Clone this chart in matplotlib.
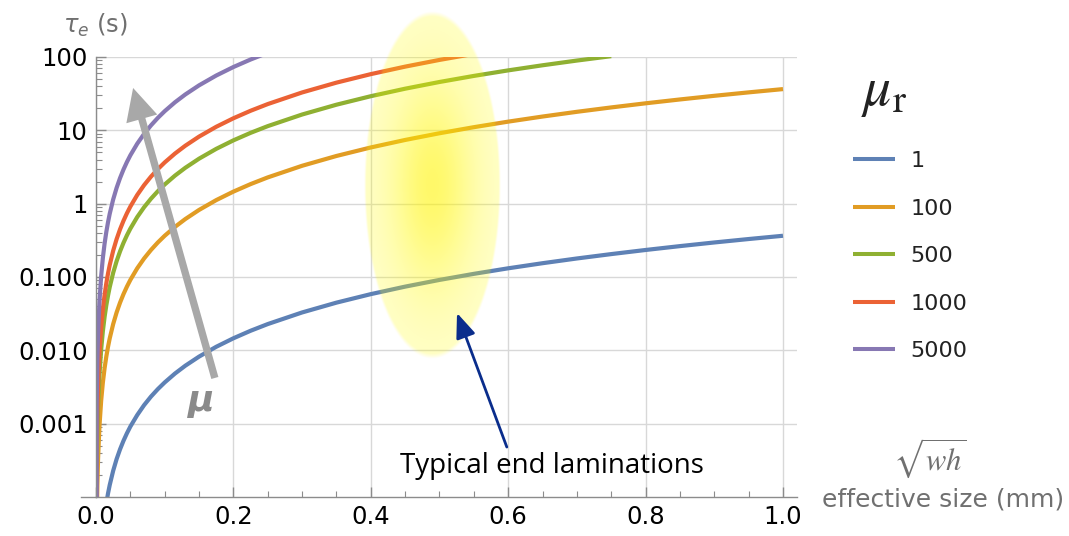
import numpy as np
import matplotlib
matplotlib.use("Agg")
import matplotlib.pyplot as plt
from matplotlib.ticker import LogLocator, NullFormatter, MultipleLocator
from matplotlib.lines import Line2D

# ---------------- data ----------------
size_mm = [0, 0.001, 0.002, 0.003, 0.005, 0.0075, 0.01, 0.0125, 0.015, 0.0175, 0.02,
           0.025, 0.03, 0.035, 0.04, 0.045, 0.05, 0.06, 0.07, 0.08, 0.09, 0.1, 0.115,
           0.13, 0.15, 0.175, 0.2, 0.225, 0.25, 0.3, 0.35, 0.4, 0.45, 0.5, 0.55, 0.6,
           0.65, 0.7, 0.75, 0.8, 0.85, 0.9, 0.95, 1.0]
mu_labels = ["1", "100", "500", "1000", "5000"]
tau_mu1 = [0, 3.7e-7, 1.5e-6, 3.3e-6, 9.1e-6, 2.05e-5, 3.65e-5, 5.7e-5, 8.2e-5, 1.12e-4,
           1.46e-4, 2.28e-4, 3.29e-4, 4.47e-4, 5.84e-4, 7.39e-4, 9.13e-4, 1.31e-3,
           1.79e-3, 2.34e-3, 2.96e-3, 3.65e-3, 4.83e-3, 6.17e-3, 8.21e-3, 0.01118,
           0.0146, 0.01848, 0.02281, 0.03285, 0.04471, 0.0584, 0.07391, 0.09125,
           0.1104, 0.1314, 0.1542, 0.1789, 0.2053, 0.2336, 0.2637, 0.2957, 0.3294, 0.365]
tau_mu100 = [0, 3.7e-5, 1.46e-4, 3.29e-4, 9.13e-4, 2.05e-3, 3.65e-3, 5.7e-3, 8.21e-3,
             0.01118, 0.0146, 0.02281, 0.03285, 0.04471, 0.0584, 0.07391, 0.09125,
             0.1314, 0.1789, 0.2336, 0.2957, 0.365, 0.4827, 0.6169, 0.8213, 1.118,
             1.46, 1.848, 2.281, 3.285, 4.471, 5.84, 7.391, 9.125, 11.04, 13.14, 15.42,
             17.89, 20.53, 23.36, 26.37, 29.57, 32.94, 36.5]
tau_mu500 = [0, 1.83e-4, 7.3e-4, 1.64e-3, 4.56e-3, 0.01027, 0.01825, 0.02852, 0.04106,
             0.05589, 0.073, 0.1141, 0.1643, 0.2236, 0.292, 0.3696, 0.4563, 0.657,
             0.8943, 1.168, 1.478, 1.825, 2.414, 3.084, 4.106, 5.589, 7.3, 9.239, 11.41,
             16.43, 22.36, 29.2, 36.96, 45.63, 55.21, 65.7, 77.11, 89.43, 102.7]
tau_mu1000 = [0, 3.65e-4, 1.46e-3, 3.29e-3, 9.13e-3, 0.02053, 0.0365, 0.05703, 0.08213,
              0.1118, 0.146, 0.2281, 0.3285, 0.4471, 0.584, 0.7391, 0.9125, 1.314,
              1.789, 2.336, 2.957, 3.65, 4.827, 6.169, 8.213, 11.18, 14.6, 18.48,
              22.81, 32.85, 44.71, 58.4, 73.91, 91.25, 110.4]
tau_mu5000 = [0, 1.83e-3, 7.3e-3, 0.01643, 0.04563, 0.1027, 0.1825, 0.2852, 0.4106,
              0.5589, 0.73, 1.141, 1.643, 2.236, 2.92, 3.696, 4.563, 6.57, 8.943,
              11.68, 14.78, 18.25, 24.14, 30.84, 41.06, 55.89, 73, 92.39, 114.1]
series = [tau_mu1, tau_mu100, tau_mu500, tau_mu1000, tau_mu5000]
colors = ["#5E81B5", "#E19C24", "#8FB032", "#EB6235", "#8778B3"]

y_ticks = [1e-3, 1e-2, 1e-1, 1, 10, 100]
y_tick_labels = ["0.001", "0.010", "0.100", "1", "10", "100"]
x_ticks = [0.0, 0.2, 0.4, 0.6, 0.8, 1.0]
x_tick_labels = ["0.0", "0.2", "0.4", "0.6", "0.8", "1.0"]

# ---------------- figure ----------------
W, H = 1069, 536
fig = plt.figure(figsize=(W / 100, H / 100), dpi=100)
L, R, B, T = 96, 797, 497, 57
ax = fig.add_axes([L / W, 1 - B / H, (R - L) / W, (B - T) / H])
ax.set_yscale("log")
ax.set_xlim(0, 1.0204)
ax.set_ylim(1e-4, 100)

spine_col = "#8C8C8C"
grid_col = "#D8D8D8"
for s in ["top", "right"]:
    ax.spines[s].set_visible(False)
for s in ["left", "bottom"]:
    ax.spines[s].set_color(spine_col)
    ax.spines[s].set_linewidth(1.0)
ax.add_line(Line2D([-0.0214, 0], [0, 0], transform=ax.transAxes, color=spine_col,
                   lw=1.0, clip_on=False))

ax.set_yticks(y_ticks, labels=y_tick_labels)
ax.yaxis.set_minor_locator(LogLocator(base=10, subs=np.arange(2, 10), numticks=20))
ax.yaxis.set_minor_formatter(NullFormatter())
ax.set_xticks(x_ticks, labels=x_tick_labels)
ax.xaxis.set_minor_locator(MultipleLocator(0.05))
ax.tick_params(axis="both", which="major", direction="in", length=7, width=1,
               color=spine_col, labelsize=17.5, labelcolor="black", pad=6)
ax.tick_params(axis="both", which="minor", direction="in", length=4, width=0.8,
               color=spine_col)
for lab in ax.get_xticklabels() + ax.get_yticklabels():
    lab.set_fontfamily("DejaVu Sans")

ax.grid(True, which="major", color=grid_col, lw=1.0)
ax.set_axisbelow(True)

handles = []
for vals, c, lab in zip(series, colors, mu_labels):
    h, = ax.plot(size_mm[:len(vals)], vals, color=c, lw=3.0, label=lab,
                 solid_capstyle="butt", solid_joinstyle="round")
    handles.append(h)

# legend
leg = fig.legend(handles=handles, labels=mu_labels, loc="upper left",
                 bbox_to_anchor=(853 / W, 1 - 151 / H), frameon=False,
                 borderaxespad=0, borderpad=0,
                 prop={"family": "DejaVu Sans", "size": 16},
                 labelspacing=1.24, handlelength=1.9, handletextpad=0.68)
for t in leg.get_texts():
    t.set_color("#222222")
for l in leg.get_lines():
    l.set_linewidth(2.9)
fig.text(861 / W, 1 - 92 / H, r"$\mu_{\mathrm{r}}$", fontsize=40, color="#222222",
         ha="left", va="center", math_fontfamily="stix")

# axis labels
fig.text(63 / W, 1 - 25 / H, r"$\tau_e$ (s)", color="#707070", fontsize=17.5,
         family="DejaVu Sans", va="center", ha="left",
         math_fontfamily="dejavusans")
fig.text(930 / W, 1 - 458 / H, r"$\sqrt{wh}$", color="#707070", fontsize=22,
         ha="center", va="center", math_fontfamily="stix")
fig.text(943 / W, 1 - 500 / H, "effective size (mm)", color="#707070", fontsize=18,
         family="DejaVu Sans", ha="center", va="center")

# gray μ arrow
ax.annotate("", xy=(0.054, 37.8), xytext=(0.173, 0.0042), xycoords="data",
            arrowprops=dict(arrowstyle="simple,head_length=1.05,head_width=1.05,tail_width=0.24",
                            color="#A8A8A8", mutation_scale=22, shrinkA=0, shrinkB=0,
                            lw=0))
ax.text(0.152, 0.0019, r"$\boldsymbol{\mu}$", color="#8A8A8A", fontsize=26,
        ha="center", va="center", math_fontfamily="dejavusans")

# yellow glow ellipse (overlay)
cx, cy = 0.4905, 1.8
px, py = ax.transData.transform((cx, cy))
ew, eh = 137, 348
ov = fig.add_axes([(px - ew / 2) / W, (py - eh / 2) / H, ew / W, eh / H], zorder=2)
ov.set_axis_off()
nx, ny = 300, 600
gx, gy = np.meshgrid(np.linspace(-1, 1, nx), np.linspace(-1, 1, ny))
d = np.sqrt(gx ** 2 + gy ** 2)
core = np.exp(-(d / 0.6) ** 2)
alpha = 0.21 + 0.38 * core
edge = np.clip((1 - d) / 0.03, 0, 1)
img = np.zeros((ny, nx, 4))
img[..., 0] = 1.0
img[..., 1] = 0.99 - 0.03 * core
img[..., 2] = 0.0
img[..., 3] = alpha * edge
ov.imshow(img, extent=(0, 1, 0, 1), aspect="auto", interpolation="bilinear")
ov.set_xlim(0, 1)
ov.set_ylim(0, 1)

# blue arrow + text
ov.annotate("", xy=(0.5255, 0.0323), xycoords=ax.transData,
            xytext=(0.598, 4.8e-4), textcoords=ax.transData,
            arrowprops=dict(arrowstyle="-|>,head_length=0.75,head_width=0.3",
                            color="#0A2D8C", lw=2, mutation_scale=20,
                            shrinkA=0, shrinkB=0), annotation_clip=False)
ax.text(0.664, 2.65e-4, "Typical end laminations", fontsize=20, family="Open Sans",
        ha="center", va="center", color="black")

fig.savefig("out.png", dpi=100)
